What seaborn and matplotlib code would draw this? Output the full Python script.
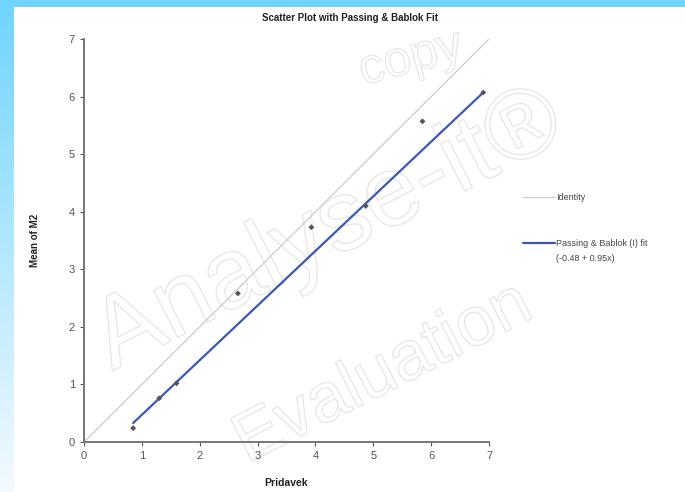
import numpy as np
import pandas as pd
import matplotlib
matplotlib.use("Agg")
import matplotlib.pyplot as plt
import matplotlib.patheffects as pe
from matplotlib.lines import Line2D
import seaborn as sns

# values
pridavek = [0.85, 1.30, 1.60, 2.66, 3.93, 4.87, 5.85, 6.90]
mean_m2 = [0.24, 0.76, 1.02, 2.58, 3.73, 4.10, 5.57, 6.07]
identity_x = [0, 7]
identity_y = [0, 7]
fit_x = [0.85, 6.90]
fit_y = [0.33, 6.07]
ticks = [0, 1, 2, 3, 4, 5, 6, 7]

sns.set_style("ticks")
plt.rcParams["font.family"] = ["Liberation Sans", "DejaVu Sans"]

fig = plt.figure(figsize=(6.85, 4.92), dpi=100)
fig.patch.set_facecolor("white")

# blue frame of the screenshot
grad = fig.add_axes([0, 0, 14 / 685, 1])
top_c = np.array([0x6f, 0xd5, 0xff]) / 255
bot_c = np.array([0xf4, 0xfa, 0xff]) / 255
t = np.linspace(0, 1, 200)[:, None]
img = (top_c * (1 - t) + bot_c * t)[:, None, :]
grad.imshow(img, aspect="auto", extent=[0, 1, 0, 1])
grad.axis("off")
band = fig.add_axes([0, 1 - 7 / 492, 1, 7 / 492])
band.set_facecolor("#6fd5ff")
band.set_xticks([])
band.set_yticks([])
for s in band.spines.values():
    s.set_visible(False)

# faint outlined watermark behind the chart
wm = dict(color="none", zorder=-1,
          path_effects=[pe.withStroke(linewidth=0.9, foreground="#e6e6e6")])
fig.text(0.48, 0.53, "Analyse-it®", fontsize=72, rotation=27, ha="center", va="center", **wm)
fig.text(0.56, 0.24, "Evaluation", fontsize=50, rotation=27, ha="center", va="center", **wm)
fig.text(0.60, 0.88, "copy", fontsize=36, rotation=15, ha="center", va="center", **wm)

ax = fig.add_axes([84 / 685, 50 / 492, 405 / 685, 403 / 492])
ax.patch.set_alpha(0)

sns.lineplot(x=identity_x, y=identity_y, ax=ax, color="#cccccc", lw=0.9,
             label="Identity")
sns.lineplot(x=fit_x, y=fit_y, ax=ax, color="#3b58b5", lw=1.6,
             label="Passing & Bablok (I) fit")
sns.scatterplot(x=pridavek, y=mean_m2, ax=ax, color="#555555", s=9,
                marker="D", edgecolor="none", zorder=5)

ax.set_xlim(0, 7)
ax.set_ylim(0, 7)
ax.set_xticks(ticks)
ax.set_yticks(ticks)
ax.tick_params(colors="#555555", labelsize=8, length=3, width=0.8,
               labelcolor="#555555")
for s in ["left", "bottom"]:
    ax.spines[s].set_color("#777777")
    ax.spines[s].set_linewidth(1.4)
sns.despine(ax=ax)

ax.set_xlabel("Pridavek", fontsize=7.5, fontweight="bold", color="#222222", labelpad=12)
ax.set_ylabel("Mean of M2", fontsize=7, fontweight="bold", color="#222222", labelpad=21)
fig.text(350 / 685, 1 - 18 / 492, "Scatter Plot with Passing & Bablok Fit",
         ha="center", va="center", fontsize=7, fontweight="bold", color="#222222")

handles, labels = ax.get_legend_handles_labels()
blank = Line2D([], [], color="none")
leg = ax.legend([handles[0], blank, blank, handles[1], blank],
                [labels[0], "", "", labels[1], "(-0.48 + 0.95x)"],
                loc="upper left", bbox_to_anchor=(523 / 685, 1 - 193 / 492),
                bbox_transform=fig.transFigure, frameon=False, fontsize=6.5,
                handlelength=3.5, handletextpad=0.15, labelspacing=0.69,
                borderaxespad=0, borderpad=0)
for txt in leg.get_texts():
    txt.set_color("#444444")

fig.savefig("out.png", dpi=100, facecolor="white")
